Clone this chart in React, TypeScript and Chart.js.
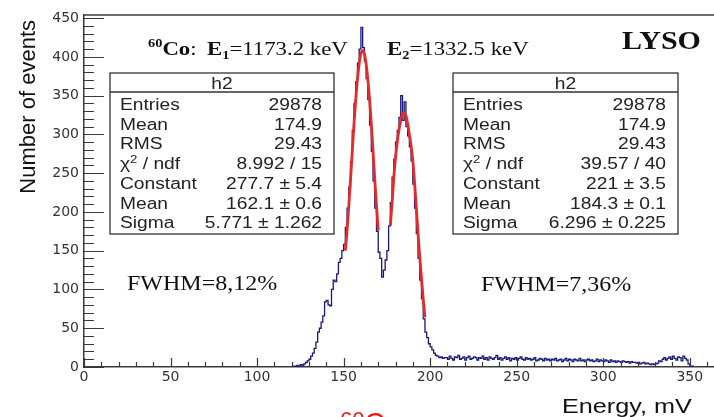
import React, { useEffect, useRef } from 'react';
import { Chart, registerables } from 'chart.js';

Chart.register(...registerables);

// ---- axes ----
const X_MIN = 0;
const X_MAX = 364;
const Y_MIN = 0;
const Y_MAX = 454;
const X_MAJOR = 50;
const Y_MAJOR = 50;
const MINOR_STEP = 10;

// ---- histogram h2 (1 mV bins starting at 120 mV) ----
const binStart = 120;
const binWidth = 1;
// bins 120..209
const peakCounts = [
  0, 0, 1, 0, 2, 1, 3, 2, 4, 6,
  8, 10, 14, 18, 24, 32, 45, 50, 58, 66,
  84, 86, 80, 79, 100, 112, 110, 120, 135, 140,
  150, 158, 180, 205, 232, 265, 305, 340, 368, 392,
  410, 438, 412, 395, 372, 345, 312, 278, 240, 205,
  175, 148, 140, 116, 125, 138, 150, 182, 212, 245,
  268, 290, 305, 322, 350, 318, 342, 310, 298, 284,
  266, 236, 205, 172, 140, 112, 88, 62, 45, 38,
  30, 26, 22, 18, 15, 14, 12, 13, 11, 12,
];
// bins 210..351
const tailCounts = [
  12, 10, 14, 11, 9, 13, 12, 15, 10, 11,
  13, 9, 12, 14, 10, 11, 13, 12, 9, 12,
  11, 14, 10, 12, 9, 13, 11, 10, 12, 15,
  10, 12, 9, 11, 13, 10, 12, 8, 11, 10,
  12, 9, 11, 13, 10, 9, 12, 10, 11, 9,
  10, 12, 8, 9, 11, 10, 8, 11, 9, 10,
  8, 10, 9, 11, 8, 9, 10, 7, 9, 11,
  8, 10, 9, 7, 10, 9, 8, 11, 8, 9,
  7, 9, 10, 8, 9, 7, 8, 10, 7, 9,
  8, 7, 9, 8, 6, 9, 7, 8, 6, 8,
  7, 6, 8, 7, 6, 7, 5, 7, 6, 6,
  5, 6, 4, 5, 6, 4, 5, 4, 3, 4,
  3, 4, 5, 8, 7, 10, 12, 9, 11, 13,
  10, 14, 11, 9, 13, 12, 8, 14, 11, 9,
  4, 1,
];

// ---- Gaussian fits (as drawn) ----
const fit1X = [151, 152, 153, 154, 155, 156, 157, 158, 159, 160, 161, 162, 163, 164, 165, 166, 167, 168, 169, 170];
const fit1Y = [150, 176, 208, 242, 278, 314, 345, 371, 391, 404, 408, 404, 391, 371, 345, 314, 278, 242, 208, 176];
const fit2X = [177, 178, 179, 180, 181, 182, 183, 184, 185, 186, 187, 188, 189, 190, 191, 192, 193, 194, 195, 196, 197];
const fit2Y = [182, 212, 245, 270, 290, 306, 318, 326, 328, 324, 314, 300, 285, 266, 238, 205, 172, 142, 114, 88, 64];

// ---- stat boxes ----
const statTitle = 'h2';
const statLabels = ['Entries', 'Mean', 'RMS', 'CHI', 'Constant', 'Mean', 'Sigma'];
const stats1 = ['29878', '174.9', '29.43', '8.992 / 15', '277.7 ± 5.4', '162.1 ± 0.6', '5.771 ± 1.262'];
const stats2 = ['29878', '174.9', '29.43', '39.57 / 40', '221 ± 3.5', '184.3 ± 0.1', '6.296 ± 0.225'];

const fwhm1 = 'FWHM=8,12%';
const fwhm2 = 'FWHM=7,36%';
const crystal = 'LYSO';
const yTitle = 'Number of events';
const xTitle = 'Energy, mV';

const SX = 1.2;
const SANS = 'Liberation Sans, Arial, sans-serif';
const SERIF = 'Liberation Serif, Times New Roman, serif';

type Run = { s: string; font: string; dy?: number; color?: string };

function runsWidth(ctx: CanvasRenderingContext2D, runs: Run[], sx: number) {
  let w = 0;
  for (const r of runs) {
    ctx.font = r.font;
    w += ctx.measureText(r.s).width * sx;
  }
  return w;
}

function drawRuns(ctx: CanvasRenderingContext2D, runs: Run[], x: number, y: number, sx: number, align: 'left' | 'right' | 'center' = 'left') {
  const w = runsWidth(ctx, runs, sx);
  let cx = align === 'left' ? x : align === 'right' ? x - w : x - w / 2;
  for (const r of runs) {
    ctx.save();
    ctx.font = r.font;
    ctx.fillStyle = r.color || '#111';
    ctx.textBaseline = 'alphabetic';
    ctx.textAlign = 'left';
    const rw = ctx.measureText(r.s).width * sx;
    ctx.translate(cx, y + (r.dy || 0));
    ctx.scale(sx, 1);
    ctx.fillText(r.s, 0, 0);
    ctx.restore();
    cx += rw;
  }
}

function drawStatBox(ctx: CanvasRenderingContext2D, x0: number, y0: number, x1: number, y1: number, values: string[]) {
  ctx.save();
  ctx.fillStyle = '#ffffff';
  ctx.fillRect(x0, y0, x1 - x0, y1 - y0);
  ctx.strokeStyle = '#333';
  ctx.lineWidth = 1.3;
  ctx.strokeRect(x0, y0, x1 - x0, y1 - y0);
  ctx.beginPath();
  ctx.moveTo(x0, y0 + 19);
  ctx.lineTo(x1, y0 + 19);
  ctx.stroke();
  ctx.restore();
  const f = '16px ' + SANS;
  drawRuns(ctx, [{ s: statTitle, font: f, color: '#222' }], (x0 + x1) / 2, y0 + 16, SX, 'center');
  for (let i = 0; i < statLabels.length; i++) {
    const by = y0 + 37 + i * 19.7;
    const lab = statLabels[i];
    const runs: Run[] = lab === 'CHI'
      ? [
          { s: 'χ', font: f, color: '#222' },
          { s: '2', font: '11px ' + SANS, dy: -6, color: '#222' },
          { s: ' / ndf', font: f, color: '#222' },
        ]
      : [{ s: lab, font: f, color: '#222' }];
    drawRuns(ctx, runs, x0 + 10, by, SX, 'left');
    drawRuns(ctx, [{ s: values[i], font: f, color: '#222' }], x1 - 12, by, SX, 'right');
  }
}

const overlay = {
  id: 'rootStyle',
  afterDraw(chart: any) {
    const { ctx, chartArea, scales } = chart;
    const { left, right, top, bottom } = chartArea;
    const xs = scales.x;
    const ys = scales.y;
    ctx.save();
    ctx.strokeStyle = '#3a3a3a';
    ctx.lineWidth = 1.5;
    ctx.beginPath();
    ctx.moveTo(left, top);
    ctx.lineTo(right, top);
    ctx.stroke();
    ctx.lineWidth = 1.2;
    ctx.beginPath();
    for (let v = X_MIN; v <= X_MAX; v += MINOR_STEP) {
      const px = Math.round(xs.getPixelForValue(v)) + 0.5;
      const len = v % X_MAJOR === 0 ? 9 : 5;
      ctx.moveTo(px, bottom);
      ctx.lineTo(px, bottom - len);
    }
    for (let v = Y_MIN; v <= Y_MAX; v += MINOR_STEP) {
      const py = Math.round(ys.getPixelForValue(v)) + 0.5;
      const len = v % Y_MAJOR === 0 ? 20 : 10;
      ctx.moveTo(left, py);
      ctx.lineTo(left + len, py);
    }
    ctx.stroke();
    ctx.restore();

    // y axis title
    ctx.save();
    ctx.font = '22px ' + SANS;
    ctx.fillStyle = '#111';
    ctx.textAlign = 'right';
    ctx.textBaseline = 'alphabetic';
    ctx.translate(35, 20);
    ctx.rotate(-Math.PI / 2);
    ctx.fillText(yTitle, 0, 0);
    ctx.restore();

    // x axis title
    drawRuns(ctx, [{ s: xTitle, font: '21px ' + SANS, color: '#111' }], 562, 413, SX);

    // isotope line
    drawRuns(ctx, [
      { s: '60', font: 'bold 12px ' + SERIF, dy: -8 },
      { s: 'Co', font: 'bold 19px ' + SERIF },
      { s: ':', font: '19px ' + SERIF },
    ], 148, 55, SX);
    drawRuns(ctx, [
      { s: 'E', font: 'bold 19px ' + SERIF },
      { s: '1', font: 'bold 12px ' + SERIF, dy: 4 },
      { s: '=1173.2 keV', font: '19px ' + SERIF },
    ], 207, 55, SX);
    drawRuns(ctx, [
      { s: 'E', font: 'bold 19px ' + SERIF },
      { s: '2', font: 'bold 12px ' + SERIF, dy: 4 },
      { s: '=1332.5 keV', font: '19px ' + SERIF },
    ], 387, 55, SX);
    drawRuns(ctx, [{ s: crystal, font: 'bold 25px ' + SERIF }], 622, 49, SX);

    drawStatBox(ctx, 110, 73, 334, 234, stats1);
    drawStatBox(ctx, 453, 73, 678, 234, stats2);

    drawRuns(ctx, [{ s: fwhm1, font: '20px ' + SERIF }], 127, 290, SX);
    drawRuns(ctx, [{ s: fwhm2, font: '20px ' + SERIF }], 481, 291, SX);

    // clipped red caption at bottom edge
    drawRuns(ctx, [
      { s: '60', font: '22px ' + SANS, color: '#ee1111' },
      { s: 'Co', font: '28px ' + SANS, color: '#ee1111', dy: 5 },
    ], 340, 427, 1);
  },
};

export default function App() {
  const ref = useRef<HTMLCanvasElement | null>(null);
  useEffect(() => {
    document.body.style.margin = '0';
    const canvas = ref.current;
    if (!canvas) return;
    const counts = [...peakCounts, ...tailCounts];
    const hist = counts.map((c, i) => ({ x: binStart + i * binWidth, y: c }));
    const endX = binStart + counts.length * binWidth;
    hist.push({ x: endX, y: counts[counts.length - 1] });
    hist.push({ x: endX, y: 0 });
    const f1 = fit1X.map((x, i) => ({ x, y: fit1Y[i] }));
    const f2 = fit2X.map((x, i) => ({ x, y: fit2Y[i] }));
    const tickFont = { family: 'DejaVu Sans', size: 14 };
    const chart = new Chart(canvas, {
      type: 'line',
      data: {
        datasets: [
          { label: 'fit1', data: f1, borderColor: '#e62a2a', borderWidth: 2.8, pointRadius: 0, tension: 0.4, cubicInterpolationMode: 'monotone', order: 1 } as any,
          { label: 'fit2', data: f2, borderColor: '#e62a2a', borderWidth: 2.8, pointRadius: 0, tension: 0.4, cubicInterpolationMode: 'monotone', order: 1 } as any,
          { label: 'h2', data: hist, borderColor: '#16187a', borderWidth: 1.3, pointRadius: 0, stepped: 'after', order: 2 } as any,
        ],
      },
      options: {
        animation: false,
        responsive: false,
        maintainAspectRatio: false,
        layout: { padding: { top: 15, right: 0, left: 0, bottom: 0 } },
        plugins: { legend: { display: false }, tooltip: { enabled: false } },
        scales: {
          x: {
            type: 'linear',
            min: X_MIN,
            max: X_MAX,
            ticks: { stepSize: X_MAJOR, includeBounds: false, autoSkip: false, maxRotation: 0, font: tickFont, color: '#333', padding: 2 },
            grid: { display: false, drawTicks: false },
            border: { display: true, color: '#3a3a3a', width: 1.5 },
            afterFit: (s: any) => { s.height = 50; },
          },
          y: {
            type: 'linear',
            min: Y_MIN,
            max: Y_MAX,
            ticks: { stepSize: Y_MAJOR, includeBounds: false, autoSkip: false, font: tickFont, color: '#333', padding: 5 },
            grid: { display: false, drawTicks: false },
            border: { display: true, color: '#3a3a3a', width: 1.5 },
            afterFit: (s: any) => { s.width = 84; },
          },
        },
      } as any,
      plugins: [overlay],
    });
    return () => chart.destroy();
  }, []);
  return (
    <div style={{ position: 'absolute', left: 0, top: 0, width: 714, height: 417, background: '#fff' }}>
      <canvas ref={ref} width={714} height={417} style={{ width: 714, height: 417, display: 'block' }} />
    </div>
  );
}
